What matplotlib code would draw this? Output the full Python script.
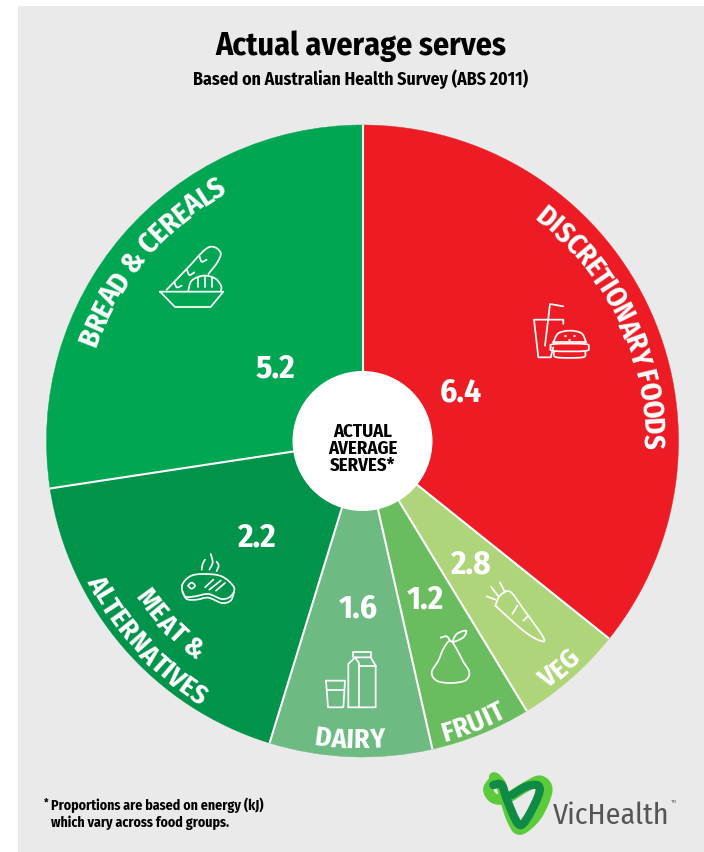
import numpy as np
import matplotlib
matplotlib.use("Agg")
import logging
logging.getLogger("matplotlib.font_manager").setLevel(logging.ERROR)
import matplotlib.pyplot as plt
from matplotlib.patches import Wedge, Circle, Rectangle, PathPatch
from matplotlib.path import Path
from matplotlib.font_manager import FontProperties

# Food groups, clockwise from twelve o'clock
categories = ["Discretionary foods", "Veg", "Fruit", "Dairy", "Meat & alternatives", "Bread & cereals"]
energy_share = [35.75, 5.55, 5.15, 8.3, 17.85, 27.4]   # per cent of energy, sets wedge size
serves = [6.4, 2.8, 1.2, 1.6, 2.2, 5.2]                # printed serve counts
colors = ["#ED1C24", "#AFD57A", "#6ABD5E", "#6DBB82", "#00934A", "#00A651"]

W, H = 704, 853
CX, CY, R, HOLE = 362.5, 442.0, 316.0, 70.0
FONT = ["Fira Sans Condensed", "Roboto Condensed", "Liberation Sans", "DejaVu Sans"]

fig = plt.figure(figsize=(W / 100, H / 100), dpi=100, facecolor="white")
ax = fig.add_axes([0, 0, 1, 1])
ax.set_xlim(0, W)
ax.set_ylim(H, 0)
ax.axis("off")

ax.add_patch(Rectangle((18, 7), W - 18, H - 7, fc="#EAEAEA", ec="none"))

# Wedges run clockwise on screen because the y axis points down
start = -90.0
edges = []
for share, col in zip(energy_share, colors):
    span = share / sum(energy_share) * 360
    ax.add_patch(Wedge((CX, CY), R, start, start + span, fc=col, ec=col, lw=0.3))
    edges.append(start)
    start += span
for a in edges:
    t = np.radians(a)
    ax.plot([CX, CX + R * np.cos(t)], [CY, CY + R * np.sin(t)], color="white", lw=1.5, zorder=2,
            solid_capstyle="butt")
ax.add_patch(Circle((CX, CY), HOLE, fc="white", ec="none", zorder=3))


def txt(x, y, s, size, color="white", ha="center", va="center", **kw):
    return ax.text(x, y, s, fontsize=size, color=color, ha=ha, va=va, family=FONT,
                   fontweight="bold", zorder=5, **kw)


def arc_text(s, mid_deg, radius, size, tracking=0.0, outward=True):
    """Set text along a circle; mid_deg is clockwise from the top of the pie."""
    fp = FontProperties(family=FONT, weight="bold", size=size)
    rend = fig.canvas.get_renderer()
    width = lambda t: rend.get_text_width_height_descent(t + "|", fp, False)[0] - \
        rend.get_text_width_height_descent("|", fp, False)[0]
    total = width(s) + tracking * (len(s) - 1)
    for i, ch in enumerate(s):
        off = width(s[:i]) + tracking * i + width(ch) / 2 - total / 2
        sign = 1 if outward else -1
        th = np.radians(mid_deg + sign * np.degrees(off / radius))
        x, y = CX + radius * np.sin(th), CY - radius * np.cos(th)
        rot = -np.degrees(th) if outward else 180 - np.degrees(th)
        if ch != " ":
            ax.text(x, y, ch, fontproperties=fp, color="white", ha="center", va="center_baseline",
                    rotation=rot, rotation_mode="anchor", zorder=5)


def smooth(points, closed=False):
    """Catmull-Rom curve through the given points as a Path."""
    p = np.asarray(points, float)
    if closed:
        p = np.vstack([p[-1], p, p[0], p[1]])
    else:
        p = np.vstack([p[0], p, p[-1]])
    verts, codes = [p[1]], [Path.MOVETO]
    for i in range(1, len(p) - 2):
        verts += [p[i] + (p[i + 1] - p[i - 1]) / 6, p[i + 1] - (p[i + 2] - p[i]) / 6, p[i + 1]]
        codes += [Path.CURVE4] * 3
    return Path(verts, codes)


def icon(origin, strokes, color="white", lw=1.25, zorder=4):
    """Draw strokes given in 1/3-pixel units relative to an origin."""
    ox, oy = origin
    for kind, pts in strokes:
        pts = np.asarray(pts, float) / 3 + (ox, oy)
        if kind == "line":
            path = Path(pts)
        else:
            path = smooth(pts, closed=(kind == "loop"))
        ax.add_patch(PathPatch(path, fc="none", ec=color, lw=lw, capstyle="round",
                               joinstyle="round", zorder=zorder))


# Headings and footnote
txt(361, 46, "Actual average serves", 23, "black")
txt(361, 79, "Based on Australian Health Survey (ABS 2011)", 12.8, "black")
txt(44, 803, "*", 8, "black", ha="left")
txt(51, 805, "Proportions are based on energy (kJ)", 10, "black", ha="left")
txt(51, 823, "which vary across food groups.", 10, "black", ha="left")

# Centre label
for y, line in zip([432, 449, 466], ["ACTUAL", "AVERAGE", "SERVES*"]):
    txt(363, y, line, 13.5, "black")

# Serve counts
value_xy = [(461, 393), (470, 565), (425, 600), (358, 609), (256, 538), (275, 369)]
for (x, y), v in zip(value_xy, serves):
    txt(x, y, f"{v:.1f}", 24)

# Labels along the rim
arc_text("DISCRETIONARY FOODS", 64.5, 292, 20.5)
arc_text("BREAD & CEREALS", -49.5, 294, 21)
arc_text("ALTERNATIVES", 180 + 47.5, 299, 20, outward=False)
arc_text("MEAT &", 180 + 46.5, 265, 20, outward=False)
arc_text("DAIRY", 182.5, 296, 20, outward=False)
arc_text("FRUIT", 158.5, 300, 20, outward=False)
arc_text("VEG", 139, 298, 20, outward=False)

# Bread basket
icon((140, 220), [
    ("line", [(60, 218), (250, 218), (212, 264), (105, 264), (60, 218)]),
    ("curve", [(80, 212), (140, 150), (195, 92), (222, 84), (242, 102), (232, 130), (205, 165)]),
    ("curve", [(145, 215), (155, 185), (190, 170), (225, 178), (243, 200), (243, 216)]),
    ("line", [(175, 178), (175, 205)]), ("line", [(195, 175), (195, 205)]), ("line", [(215, 178), (215, 205)]),
    ("curve", [(103, 188), (110, 205), (125, 200)]),
    ("curve", [(140, 150), (148, 168), (163, 160)]),
    ("curve", [(178, 110), (185, 128), (200, 122)]),
])
# Drink and burger
icon((510, 290), [
    ("line", [(122, 205), (85, 205), (72, 92), (160, 92), (160, 105)]),
    ("line", [(105, 170), (120, 45), (160, 52)]),
    ("line", [(122, 205), (130, 175)]),
    ("curve", [(130, 160), (145, 133), (180, 125), (215, 133), (228, 160)]),
    ("line", [(130, 160), (228, 160)]),
    ("loop", [(122, 175), (132, 165), (225, 165), (236, 175), (225, 186), (132, 186)]),
    ("curve", [(132, 190), (140, 205), (218, 205), (226, 190)]),
    ("line", [(164, 142), (168, 142)]), ("line", [(191, 142), (195, 142)]), ("line", [(177, 152), (181, 152)]),
])
# Steak with steam
icon((160, 540), [
    ("loop", [(66, 140), (90, 112), (130, 105), (185, 112), (222, 145), (212, 172),
              (185, 180), (145, 165), (105, 172), (75, 172)]),
    ("curve", [(68, 158), (80, 180), (110, 182), (145, 176), (185, 192), (212, 185), (222, 160)]),
    ("loop", [(85, 140), (95, 131), (105, 140), (95, 149)]),
    ("line", [(135, 145), (160, 122)]), ("line", [(148, 152), (182, 125)]), ("line", [(168, 155), (195, 132)]),
    ("curve", [(125, 92), (128, 75), (135, 62)]),
    ("curve", [(148, 92), (158, 70), (152, 45)]),
    ("curve", [(170, 96), (176, 80), (170, 68)]),
])
# Carrot, pear, milk carton and glass share one origin
icon((310, 560), [
    # carrot
    ("curve", [(556, 140), (570, 110), (600, 98), (640, 150), (700, 235), (690, 245), (640, 215), (556, 140)]),
    ("line", [(530, 112), (556, 122)]), ("line", [(543, 83), (565, 112)]), ("line", [(570, 70), (585, 100)]),
    ("line", [(607, 165), (622, 140)]), ("line", [(640, 185), (655, 170)]),
    # pear
    ("loop", [(420, 245), (400, 270), (385, 305), (365, 340), (380, 365), (420, 372),
              (465, 365), (478, 340), (458, 305), (440, 270)]),
    ("curve", [(392, 236), (410, 232), (420, 245)]),
    ("loop", [(430, 248), (440, 225), (468, 215), (460, 235)]),
    # milk carton
    ("line", [(115, 445), (115, 315), (135, 295), (182, 295), (197, 320), (197, 445), (115, 445)]),
    ("line", [(147, 445), (147, 312), (135, 295)]),
    ("line", [(147, 320), (197, 320)]),
    ("line", [(130, 295), (130, 280), (182, 280), (182, 295)]),
    # glass
    ("line", [(48, 365), (105, 365), (100, 445), (54, 445), (48, 365)]),
    ("line", [(51, 392), (103, 392)]),
])
# VicHealth mark
icon((470, 760), [
    ("curve", [(78, 58), (55, 90), (72, 118), (110, 118), (165, 85), (210, 65),
               (232, 95), (200, 170), (150, 212), (125, 180), (105, 120), (92, 75), (72, 55)]),
], color="#5CCB3B", lw=7.5, zorder=2)
icon((470, 760), [
    ("curve", [(70, 78), (95, 78), (112, 125), (145, 195), (170, 180), (205, 110),
               (205, 80), (170, 82), (125, 108)]),
], color="#0F8B45", lw=6.0, zorder=2.5)
ax.text(553, 816, "VicHealth", fontsize=21.5, color="#555555", ha="left", va="center",
        family=FONT, zorder=5)
ax.text(673, 802, "TM", fontsize=3, color="#555555", ha="center", va="center", zorder=5)

fig.savefig("out.png", dpi=100, facecolor="white")
